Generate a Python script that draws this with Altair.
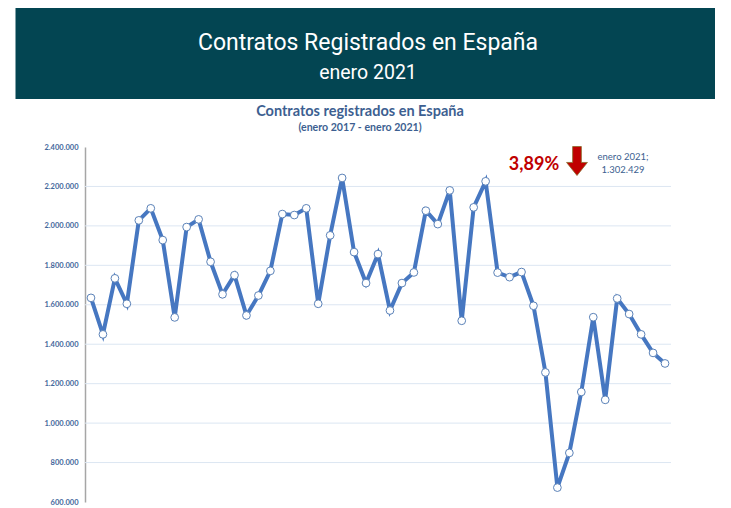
import altair as alt
import pandas as pd

# ---- data -----------------------------------------------------------------
years = ["2017", "2018", "2019", "2020"]
month_abbr = ["ene", "feb", "mar", "abr", "may", "jun", "jul", "ago", "sep", "oct", "nov", "dic"]
months = [f"{m}-{y[2:]}" for y in years for m in month_abbr] + ["ene-21"]

contratos = [
    1635000, 1450000, 1734000, 1605000, 2028000, 2089000, 1928000, 1536000, 1994000, 2033000, 1818000, 1653000,
    1750000, 1546000, 1647000, 1772000, 2060000, 2055000, 2089000, 1605000, 1952000, 2243000, 1867000, 1710000,
    1857000, 1571000, 1710000, 1764000, 2077000, 2009000, 2180000, 1519000, 2094000, 2226000, 1763000, 1740000,
    1766000, 1595000, 1257000, 673000, 849000, 1158000, 1537000, 1118000, 1632000, 1553000, 1450000, 1356000,
    1302429,
]

y_ticks = [600000, 800000, 1000000, 1200000, 1400000, 1600000, 1800000, 2000000, 2200000, 2400000]
grid_values = [800000, 1000000, 1200000, 1400000, 1600000, 1800000, 2000000, 2200000]

header_title = "Contratos Registrados en España"
header_sub = "enero 2021"
chart_title = "Contratos registrados en España"
chart_sub = "(enero 2017 - enero 2021)"
pct_text = "3,89%"
last_label = ["enero 2021;", "1.302.429"]

df = pd.DataFrame({"mes": months, "contratos": contratos})
grid_df = pd.DataFrame({"v": grid_values})
one = pd.DataFrame({"k": [0]})

LINE = "#4677C1"
LABEL = "#3D5F91"

yscale = alt.Scale(domain=[600000, 2400000], nice=False, zero=False)
xenc = alt.X("mes:N", sort=None, axis=None, scale=alt.Scale(type="point", padding=0.5))
yaxis = alt.Axis(
    values=y_ticks,
    title=None,
    grid=False,
    ticks=False,
    tickSize=0,
    labelPadding=7,
    labelFont="Lato",
    labelFontSize=7.5,
    labelFontWeight="bold",
    labelColor="#45689C",
    domainColor="#A6A6A6",
    domainWidth=1.5,
    labelExpr="replace(format(datum.value, ','), /,/g, '.')",
)

# header band
band = alt.Chart(one).mark_rect(color="#034552").encode(
    x=alt.value(-69.5), x2=alt.value(630), y=alt.value(-139), y2=alt.value(-48)
)
h1 = alt.Chart(one).mark_text(font="Roboto", fontSize=23, color="white", align="center", baseline="middle").encode(
    x=alt.value(283), y=alt.value(-104), text=alt.value(header_title)
)
h2 = alt.Chart(one).mark_text(font="Roboto", fontSize=19.5, color="white", align="center", baseline="middle").encode(
    x=alt.value(283), y=alt.value(-74), text=alt.value(header_sub)
)
t1 = alt.Chart(one).mark_text(font="Lato", fontSize=14.5, fontWeight="bold", color=LABEL, align="center", baseline="middle").encode(
    x=alt.value(275), y=alt.value(-35), text=alt.value(chart_title)
)
t2 = alt.Chart(one).mark_text(font="Lato", fontSize=10.6, fontWeight="bold", color=LABEL, align="center", baseline="middle").encode(
    x=alt.value(275), y=alt.value(-19), text=alt.value(chart_sub)
)

grid = alt.Chart(grid_df).mark_rule(color="#DCE6F2", strokeWidth=1).encode(
    y=alt.Y("v:Q", scale=yscale, axis=yaxis)
)

line = alt.Chart(df).mark_line(color=LINE, strokeWidth=4).encode(
    x=xenc,
    y=alt.Y("contratos:Q", scale=yscale, axis=yaxis),
)

points = alt.Chart(df).mark_point(filled=True, fill="white", stroke="#5B82B8", strokeWidth=1, size=60, opacity=1).encode(
    x=xenc, y=alt.Y("contratos:Q", scale=yscale, axis=yaxis)
)

pct = alt.Chart(one).mark_text(font="Lato", fontSize=18, fontWeight="bold", color="#C00000", align="center", baseline="middle").encode(
    x=alt.value(449), y=alt.value(18), text=alt.value(pct_text)
)

arrow_path = "M-0.3,-1 L0.3,-1 L0.3,0.1 L0.72,0.1 L0,1 L-0.72,0.1 L-0.3,0.1 Z"
arrow = alt.Chart(one).mark_point(shape=arrow_path, filled=True, fill="#C00000", stroke="#8A6A2A", strokeWidth=0.8, size=841, opacity=1).encode(
    x=alt.value(492), y=alt.value(14)
)

lab1 = alt.Chart(one).mark_text(font="Lato", fontSize=9.5, color=LABEL, align="center", baseline="middle").encode(
    x=alt.value(538), y=alt.value(10), text=alt.value(last_label[0])
)
lab2 = alt.Chart(one).mark_text(font="Lato", fontSize=9.5, color=LABEL, align="center", baseline="middle").encode(
    x=alt.value(538), y=alt.value(23), text=alt.value(last_label[1])
)

chart = alt.layer(band, h1, h2, t1, t2, grid, line, points, pct, arrow, lab1, lab2).properties(
    width=586,
    height=355,
    autosize=alt.AutoSizeParams(type="none"),
    padding={"left": 77, "top": 139, "right": 44, "bottom": 4},
    background="white",
).configure_view(stroke=None)

chart.save("out.html", embed_options={"renderer": "svg", "actions": False})
